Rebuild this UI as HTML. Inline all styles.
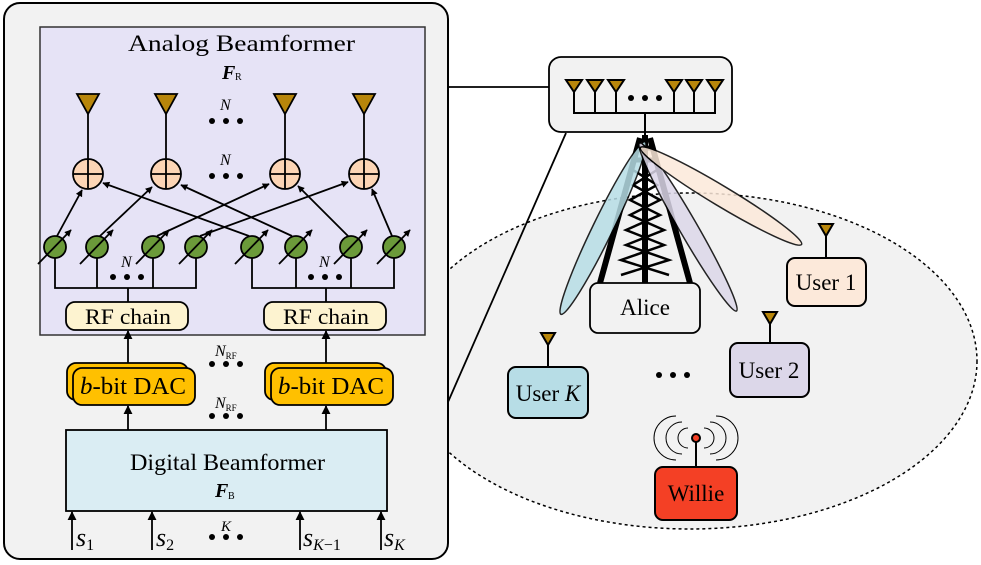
<!DOCTYPE html>
<html><head><meta charset="utf-8"><style>body{margin:0;background:#fff}svg{display:block}</style></head><body>
<svg width="981" height="565" viewBox="0 0 981 565" xmlns="http://www.w3.org/2000/svg" font-family="Liberation Serif, serif">
<defs>
<marker id="ah" viewBox="0 0 10 10" refX="9" refY="5" markerWidth="7" markerHeight="7" orient="auto-start-reverse" markerUnits="userSpaceOnUse"><path d="M0,0 L10,5 L0,10 z" fill="#000"/></marker>
<marker id="ah2" viewBox="0 0 10 10" refX="9" refY="5" markerWidth="9" markerHeight="9" orient="auto" markerUnits="userSpaceOnUse"><path d="M0,0 L10,5 L0,10 z" fill="#000"/></marker>
</defs>
<ellipse cx="690" cy="361" rx="287" ry="168" fill="#f2f2f2" stroke="#000" stroke-width="1.5" stroke-dasharray="3,3"/>
<rect x="4" y="3" width="444" height="556" rx="16" fill="#f2f2f2" stroke="#000" stroke-width="2"/>
<rect x="40" y="27" width="385" height="308" fill="#e6e3f6" stroke="#333" stroke-width="1.5"/>
<text x="128" y="51" font-size="23" textLength="227" lengthAdjust="spacingAndGlyphs">Analog Beamformer</text>
<text x="222" y="79" font-size="20" font-weight="bold" font-style="italic">F</text><text x="235" y="80" font-size="10">R</text>
<g stroke="#000" stroke-width="1.8">
<line x1="88" y1="110" x2="88" y2="159"/><line x1="166" y1="110" x2="166" y2="159"/><line x1="285" y1="110" x2="285" y2="159"/><line x1="364" y1="110" x2="364" y2="159"/>
<polygon points="77,94 99,94 88,114" fill="#b8860b"/><polygon points="155,94 177,94 166,114" fill="#b8860b"/><polygon points="274,94 296,94 285,114" fill="#b8860b"/><polygon points="353,94 375,94 364,114" fill="#b8860b"/>
<g fill="#fcd5b5">
<circle cx="88" cy="174" r="15"/><circle cx="166" cy="174" r="15"/><circle cx="285" cy="174" r="15"/><circle cx="364" cy="174" r="15"/></g>
<path d="M73,174h30M88,159v30M151,174h30M166,159v30M270,174h30M285,159v30M349,174h30M364,159v30"/>
</g>
<g fill="#000"><circle cx="212" cy="121" r="3"/><circle cx="226" cy="121" r="3"/><circle cx="240" cy="121" r="3"/>
<circle cx="212" cy="176" r="3"/><circle cx="226" cy="176" r="3"/><circle cx="240" cy="176" r="3"/>
<circle cx="113" cy="277" r="3"/><circle cx="127" cy="277" r="3"/><circle cx="141" cy="277" r="3"/>
<circle cx="311" cy="277" r="3"/><circle cx="325" cy="277" r="3"/><circle cx="339" cy="277" r="3"/></g>
<g font-size="16" font-style="italic"><text x="220" y="110">N</text><text x="220" y="165">N</text><text x="121" y="267">N</text><text x="319" y="267">N</text></g>
<g stroke="#000" stroke-width="1.8" marker-end="url(#ah)">
<line x1="57" y1="236" x2="82" y2="190"/>
<line x1="100" y1="236" x2="152" y2="187"/>
<line x1="157" y1="236" x2="269" y2="184"/>
<line x1="200" y1="236" x2="348" y2="182"/>
<line x1="249" y1="236" x2="103" y2="183"/>
<line x1="292" y1="236" x2="181" y2="185"/>
<line x1="348" y1="236" x2="298" y2="186"/>
<line x1="392" y1="236" x2="372" y2="189"/>
</g>
<g stroke="#000" stroke-width="1.8" fill="none">
<path d="M55,258V288H196V258M97,258V288M153,258V288M128,288V302"/>
<path d="M252,258V288H394V258M296,258V288M351,258V288M326,288V302"/>
</g>
<g stroke="#000" stroke-width="1.8">
<g fill="#6b9a3a"><circle cx="55" cy="247" r="11"/><circle cx="97" cy="247" r="11"/><circle cx="153" cy="247" r="11"/><circle cx="196" cy="247" r="11"/><circle cx="252" cy="247" r="11"/><circle cx="296" cy="247" r="11"/><circle cx="351" cy="247" r="11"/><circle cx="394" cy="247" r="11"/></g>
<g marker-end="url(#ah)">
<line x1="38" y1="264" x2="71" y2="230"/><line x1="80" y1="264" x2="113" y2="230"/><line x1="136" y1="264" x2="169" y2="230"/><line x1="179" y1="264" x2="212" y2="230"/><line x1="235" y1="264" x2="268" y2="230"/><line x1="279" y1="264" x2="312" y2="230"/><line x1="334" y1="264" x2="367" y2="230"/><line x1="377" y1="264" x2="410" y2="230"/></g>
</g>
<rect x="66" y="302" width="122" height="28" rx="9" fill="#fdf3d0" stroke="#000" stroke-width="1.8"/>
<rect x="264" y="302" width="122" height="28" rx="9" fill="#fdf3d0" stroke="#000" stroke-width="1.8"/>
<text x="85" y="324" font-size="22" textLength="86" lengthAdjust="spacingAndGlyphs">RF chain</text>
<text x="283" y="324" font-size="22" textLength="86" lengthAdjust="spacingAndGlyphs">RF chain</text>
<g stroke="#000" stroke-width="1.8" fill="#ffc000">
<rect x="67" y="363" width="121" height="37" rx="9"/><rect x="73" y="368" width="122" height="37" rx="9"/>
<rect x="265" y="363" width="121" height="37" rx="9"/><rect x="271" y="368" width="122" height="37" rx="9"/></g>
<text x="80" y="394" font-size="24" textLength="106" lengthAdjust="spacingAndGlyphs"><tspan font-style="italic">b</tspan>-bit DAC</text>
<text x="278" y="394" font-size="24" textLength="106" lengthAdjust="spacingAndGlyphs"><tspan font-style="italic">b</tspan>-bit DAC</text>
<g stroke="#000" stroke-width="1.8" marker-end="url(#ah2)">
<line x1="128" y1="363" x2="128" y2="331"/><line x1="326" y1="363" x2="326" y2="331"/>
<line x1="128" y1="430" x2="128" y2="406"/><line x1="326" y1="430" x2="326" y2="406"/>
<line x1="72" y1="550" x2="72" y2="512"/><line x1="152" y1="550" x2="152" y2="512"/><line x1="300" y1="550" x2="300" y2="512"/><line x1="381" y1="550" x2="381" y2="512"/>
</g>
<g fill="#000"><circle cx="212" cy="364" r="3"/><circle cx="226" cy="364" r="3"/><circle cx="240" cy="364" r="3"/>
<circle cx="212" cy="416" r="3"/><circle cx="226" cy="416" r="3"/><circle cx="240" cy="416" r="3"/>
<circle cx="212" cy="537" r="3"/><circle cx="226" cy="537" r="3"/><circle cx="240" cy="537" r="3"/></g>
<text x="215" y="356" font-size="16" font-style="italic">N<tspan font-size="9" font-style="normal" dy="3">RF</tspan></text>
<text x="215" y="408" font-size="16" font-style="italic">N<tspan font-size="9" font-style="normal" dy="3">RF</tspan></text>
<text x="221" y="531" font-size="15" font-style="italic">K</text>
<rect x="66" y="430" width="321" height="81" fill="#daedf3" stroke="#000" stroke-width="1.8"/>
<text x="130" y="470" font-size="23" textLength="195" lengthAdjust="spacingAndGlyphs">Digital Beamformer</text>
<text x="215" y="497" font-size="20" font-weight="bold" font-style="italic">F</text><text x="228" y="499" font-size="10">B</text>
<g font-size="26" font-style="italic"><text x="76" y="546">s<tspan font-size="16" font-style="normal" dy="4">1</tspan></text>
<text x="156" y="546">s<tspan font-size="16" font-style="normal" dy="4">2</tspan></text>
<text x="303" y="546">s<tspan font-size="16" dy="4">K</tspan><tspan font-size="16" font-style="normal">−1</tspan></text>
<text x="384" y="546">s<tspan font-size="16" dy="4">K</tspan></text></g>
<line x1="448" y1="87" x2="549" y2="87" stroke="#000" stroke-width="1.8"/>
<line x1="448" y1="402" x2="566" y2="133" stroke="#000" stroke-width="1.8"/>
<rect x="549" y="57" width="183" height="75" rx="12" fill="#f2f2f2" stroke="#000" stroke-width="1.8"/>
<g stroke="#000" stroke-width="2" fill="#b8860b">
<path d="M574,82V113H715V82M595,82V113M616,82V113M674,82V113M694,82V113M645,113V135" fill="none"/>
<polygon points="566,80 582,80 574,92"/><polygon points="587,80 603,80 595,92"/><polygon points="608,80 624,80 616,92"/>
<polygon points="666,80 682,80 674,92"/><polygon points="686,80 702,80 694,92"/><polygon points="707,80 723,80 715,92"/></g>
<g fill="#000"><circle cx="631" cy="98" r="3"/><circle cx="645" cy="98" r="3"/><circle cx="659" cy="98" r="3"/></g>
<g stroke="#000" stroke-width="6" fill="none">
<path d="M640,138L600,283M650,138L690,283M645,135V283"/>
<path d="M637,148h16M633,160h24" stroke-width="5"/>
</g>
<g stroke="#000" stroke-width="2.5" fill="none">
<path d="M633,170L657,185L630,200L660,215L626,230L664,245L621,260L669,275"/>
<path d="M657,170L633,185L660,200L630,215L664,230L626,245L669,260L621,275"/>
</g>
<g stroke="#000" stroke-width="1.5" opacity="0.85">
<ellipse cx="603" cy="228" rx="96" ry="10" transform="rotate(-64 603 228)" fill="#b7dde6"/>
<ellipse cx="688" cy="227" rx="97" ry="9" transform="rotate(60 688 227)" fill="#dcd7e9"/>
<ellipse cx="721" cy="196" rx="94" ry="10" transform="rotate(31 721 196)" fill="#fce9da"/>
</g>
<rect x="590" y="283" width="110" height="50" rx="8" fill="#f2f2f2" stroke="#000" stroke-width="1.8"/>
<text x="645" y="315" font-size="23" text-anchor="middle">Alice</text>
<g stroke="#000" stroke-width="2">
<line x1="826" y1="232" x2="826" y2="258"/><polygon points="819,224 833,224 826,236" fill="#b8860b"/>
<line x1="770" y1="320" x2="770" y2="343"/><polygon points="763,312 777,312 770,324" fill="#b8860b"/>
<line x1="548" y1="342" x2="548" y2="367"/><polygon points="541,333 555,333 548,345" fill="#b8860b"/>
<line x1="696" y1="440" x2="696" y2="467"/><circle cx="696" cy="438" r="4" fill="#f44025"/>
<rect x="787" y="258" width="79" height="48" rx="8" fill="#fce9da"/>
<rect x="730" y="343" width="79" height="54" rx="8" fill="#dcd7e9"/>
<rect x="508" y="367" width="80" height="51" rx="8" fill="#b7dde6"/>
<rect x="655" y="467" width="82" height="53" rx="8" fill="#f44025"/>
</g>
<g stroke="#000" stroke-width="1" fill="none">
<path d="M688,428a10,10 0 0 0 0,20M704,428a10,10 0 0 1 0,20"/>
<path d="M682,422a16,16 0 0 0 0,32M710,422a16,16 0 0 1 0,32"/>
<path d="M676,416a22,22 0 0 0 0,44M716,416a22,22 0 0 1 0,44"/>
</g>
<text x="826" y="290" font-size="23" text-anchor="middle">User 1</text>
<text x="769" y="378" font-size="23" text-anchor="middle">User 2</text>
<text x="548" y="401" font-size="23" text-anchor="middle">User <tspan font-style="italic">K</tspan></text>
<text x="696" y="501" font-size="23" text-anchor="middle">Willie</text>
<g fill="#000"><circle cx="659" cy="375" r="3"/><circle cx="673" cy="375" r="3"/><circle cx="687" cy="375" r="3"/></g>
</svg>
</body></html>
